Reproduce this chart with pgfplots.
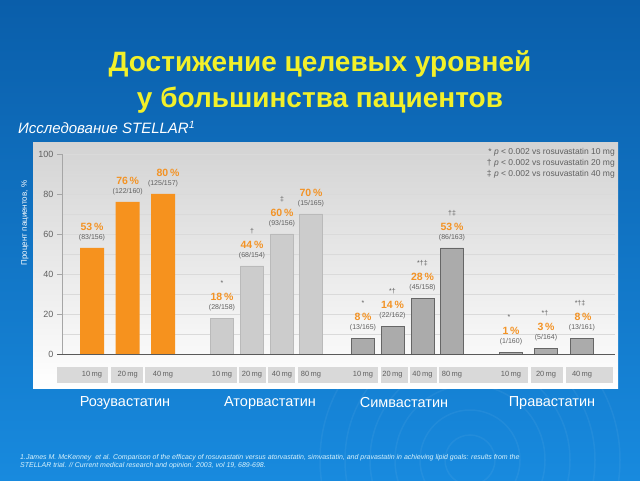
\documentclass[border=0pt]{standalone}
\usepackage{fontspec}
\setmainfont{Liberation Sans}
\usepackage{pgfplots}
\pgfplotsset{compat=1.18}
\definecolor{bgtop}{HTML}{0A5EAA}
\definecolor{bgbot}{HTML}{188ADE}
\definecolor{ttl}{HTML}{F2F02A}
\definecolor{org}{HTML}{F39325}
\definecolor{orgbar}{HTML}{F6921E}
\definecolor{txtg}{HTML}{606060}
\definecolor{boxg}{HTML}{D9D9D9}
\definecolor{gridg}{HTML}{DADADA}
\tikzset{
  pct/.style={font=\fontsize{10.5}{11}\selectfont\bfseries, text=org, yshift=21pt, inner sep=0pt},
  frac/.style={font=\fontsize{7}{8}\selectfont, text=txtg, yshift=10pt, inner sep=0pt},
  star/.style={font=\fontsize{7}{8}\selectfont, text=txtg, yshift=35pt, inner sep=0pt},
}
\pgfplotsset{
  rosu/.style={ybar, bar width=24, bar shift=0pt, draw=none, fill=orgbar},
  ator/.style={ybar, bar width=23, bar shift=0pt, draw=black!27, line width=0.4pt, fill=black!20},
  simv/.style={ybar, bar width=23, bar shift=0pt, draw=black!60, line width=0.7pt, fill=black!33},
}
\begin{document}
\begin{tikzpicture}[x=1pt,y=1pt]
\shade[top color=bgtop,bottom color=bgbot] (0,0) rectangle (640,480);
\begin{scope}[white,opacity=0.05,line width=1.5pt]
\foreach \r in {25,50,...,150} \draw (470,20) circle (\r);
\end{scope}
\shade[top color=black!17, middle color=black!5, bottom color=white] (33,337) rectangle (618,92);
% title
\node[anchor=base, font=\fontsize{28}{34}\selectfont\bfseries, text=ttl] at (320,408) {Достижение целевых уровней};
\node[anchor=base, font=\fontsize{28}{34}\selectfont\bfseries, text=ttl] at (320,372) {у большинства пациентов};
\node[anchor=base west, font=\fontsize{15}{18}\selectfont\itshape, text=white, inner sep=0pt] at (18,346) {Исследование STELLAR\textsuperscript{1}};
% y label
\node[rotate=90, font=\fontsize{8}{9}\selectfont, text=white] at (25,257) {Процент пациентов, \%};
% category boxes
\foreach \a/\b in {57/108,111/143,145/237,239/266,268/295,298/378,381/408,410/437,439/528,531/563,566/613}
  \fill[boxg] (\a,97) rectangle (\b,113);
\foreach \x/\t in {92/10,127.7/20,163/40,222/10,252/20,282/40,311/80,363/10,392.5/20,422.5/40,452/80,511/10,546/20,582/40}
  \node[font=\fontsize{7.5}{8}\selectfont, text=txtg] at (\x,105) {\t\,mg};
% group labels
\foreach \x/\t in {125/Розувастатин,270/Аторвастатин,404/Симвастатин,552/Правастатин}
  \node[font=\fontsize{14.5}{16}\selectfont, text=white] at (\x,77) {\t};
% footnote
\node[anchor=base west, font=\fontsize{7}{8}\selectfont\itshape, text=white!85!cyan, inner sep=0pt] at (20,21) {1.James M. McKenney\ \ et al. Comparison of the efficacy of rosuvastatin versus atorvastatin, simvastatin, and pravastatin in achieving lipid goals: results from the};
\node[anchor=base west, font=\fontsize{7}{8}\selectfont\itshape, text=white!85!cyan, inner sep=0pt] at (20,13) {STELLAR trial. // Current medical research and opinion. 2003, vol 19, 689-698.};
\begin{axis}[
  at={(62pt,126pt)}, anchor=south west,
  scale only axis, width=553pt, height=200pt,
  xmin=62, xmax=615, ymin=0, ymax=100,
  axis x line=none, axis y line*=left,
  y axis line style={gray!70},
  xtick=\empty,
  ytick={0,20,...,100}, minor ytick={10,30,...,90},
  tick align=outside, major tick length=5pt, minor tick length=0pt,
  tick style={gray!70},
  ymajorgrids, yminorgrids,
  major grid style={gridg}, minor grid style={gridg},
  yticklabel style={font=\fontsize{9}{10}\selectfont, text=txtg},
  /pgf/number format/assume math mode=true,
  clip=false,
]
\addplot[rosu] coordinates {(92,53) (127.7,76) (163,80)};
\addplot[ator] coordinates {(222,18) (252,44) (282,60) (311,70)};
\addplot[simv] coordinates {(363,8) (392.5,14) (422.5,28) (452,53)};
\addplot[simv] coordinates {(511,1) (546,3) (582,8)};
\draw[black!65, line width=0.8pt] (axis cs:57,0) -- (axis cs:615,0);
% labels rosuvastatin
\node[pct] at (axis cs:92,53) {53\,\%};
\node[frac] at (axis cs:92,53) {(83/156)};
\node[pct] at (axis cs:127.7,76) {76\,\%};
\node[frac] at (axis cs:127.7,76) {(122/160)};
\node[pct] at (axis cs:168,80) {80\,\%};
\node[frac] at (axis cs:163,80) {(125/157)};
% atorvastatin
\node[star] at (axis cs:222,18) {*};
\node[pct] at (axis cs:222,18) {18\,\%};
\node[frac] at (axis cs:222,18) {(28/158)};
\node[star] at (axis cs:252,44) {†};
\node[pct] at (axis cs:252,44) {44\,\%};
\node[frac] at (axis cs:252,44) {(68/154)};
\node[star] at (axis cs:282,60) {‡};
\node[pct] at (axis cs:282,60) {60\,\%};
\node[frac] at (axis cs:282,60) {(93/156)};
\node[pct] at (axis cs:311,70) {70\,\%};
\node[frac] at (axis cs:311,70) {(15/165)};
% simvastatin
\node[star] at (axis cs:363,8) {*};
\node[pct] at (axis cs:363,8) {8\,\%};
\node[frac] at (axis cs:363,8) {(13/165)};
\node[star] at (axis cs:392.5,14) {*†};
\node[pct] at (axis cs:392.5,14) {14\,\%};
\node[frac] at (axis cs:392.5,14) {(22/162)};
\node[star] at (axis cs:422.5,28) {*†‡};
\node[pct] at (axis cs:422.5,28) {28\,\%};
\node[frac] at (axis cs:422.5,28) {(45/158)};
\node[star] at (axis cs:452,53) {†‡};
\node[pct] at (axis cs:452,53) {53\,\%};
\node[frac] at (axis cs:452,53) {(86/163)};
% pravastatin
\node[star] at (axis cs:509,1) {*};
\node[pct] at (axis cs:511,1) {1\,\%};
\node[frac] at (axis cs:511,1) {(1/160)};
\node[star] at (axis cs:545,3) {*†};
\node[pct] at (axis cs:546,3) {3\,\%};
\node[frac] at (axis cs:546,3) {(5/164)};
\node[star] at (axis cs:580,8) {*†‡};
\node[pct] at (axis cs:583,8) {8\,\%};
\node[frac] at (axis cs:582,8) {(13/161)};
\end{axis}
% legend (drawn over the grid)
\node[anchor=base east, font=\fontsize{8.5}{9}\selectfont, text=txtg, inner sep=0pt] at (615,325) {* \textit{p} < 0.002 vs rosuvastatin 10 mg};
\node[anchor=base east, font=\fontsize{8.5}{9}\selectfont, text=txtg, inner sep=0pt] at (615,314) {† \textit{p} < 0.002 vs rosuvastatin 20 mg};
\node[anchor=base east, font=\fontsize{8.5}{9}\selectfont, text=txtg, inner sep=0pt] at (615,303) {‡ \textit{p} < 0.002 vs rosuvastatin 40 mg};
\pgfresetboundingbox
\path[use as bounding box] (0,0) rectangle (640,480);
\end{tikzpicture}
\end{document}
